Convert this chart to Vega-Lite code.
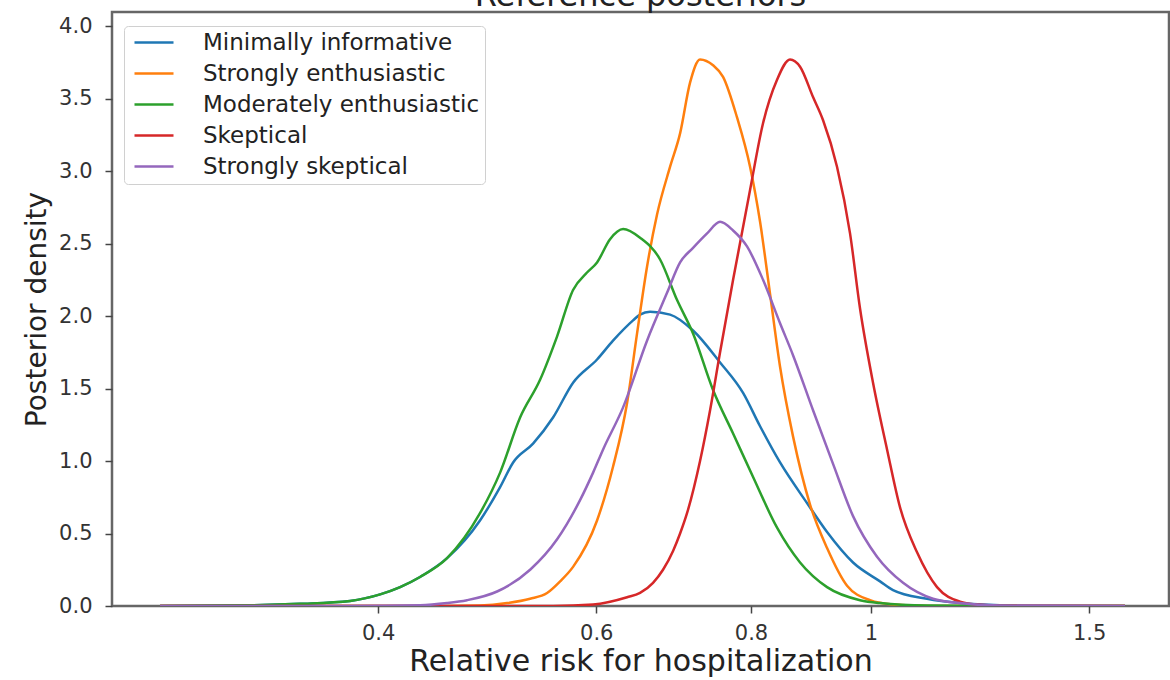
{
  "$schema": "https://vega.github.io/schema/vega-lite/v6.json",
  "width": 1057,
  "height": 594,
  "autosize": {"type": "none"},
  "padding": {"left": 112, "top": 12, "right": 1, "bottom": 74},
  "background": "white",
  "title": {"text": "Reference posteriors", "fontSize": 32, "font": "DejaVu Sans", "fontWeight": "normal", "color": "#222222", "anchor": "middle", "offset": -1},
  "config": {"view": {"stroke": "#666666", "strokeWidth": 2.5}, "font": "DejaVu Sans"},
  "data": {"values": [
    {"s":"Minimally informative","x":0.2667,"y":0},{"s":"Minimally informative","x":0.3153,"y":0.005},{"s":"Minimally informative","x":0.346,"y":0.015},{"s":"Minimally informative","x":0.3797,"y":0.035},{"s":"Minimally informative","x":0.4015,"y":0.08},{"s":"Minimally informative","x":0.4167,"y":0.13},{"s":"Minimally informative","x":0.4324,"y":0.2},{"s":"Minimally informative","x":0.4547,"y":0.33},{"s":"Minimally informative","x":0.4834,"y":0.59},{"s":"Minimally informative","x":0.5018,"y":0.82},{"s":"Minimally informative","x":0.5141,"y":0.99},{"s":"Minimally informative","x":0.5335,"y":1.12},{"s":"Minimally informative","x":0.5537,"y":1.3},{"s":"Minimally informative","x":0.5747,"y":1.54},{"s":"Minimally informative","x":0.6009,"y":1.7},{"s":"Minimally informative","x":0.619,"y":1.83},{"s":"Minimally informative","x":0.6425,"y":1.97},{"s":"Minimally informative","x":0.6509,"y":2.01},{"s":"Minimally informative","x":0.6631,"y":2.03},{"s":"Minimally informative","x":0.6883,"y":2.01},{"s":"Minimally informative","x":0.7183,"y":1.9},{"s":"Minimally informative","x":0.7553,"y":1.68},{"s":"Minimally informative","x":0.7883,"y":1.47},{"s":"Minimally informative","x":0.8136,"y":1.24},{"s":"Minimally informative","x":0.8444,"y":0.99},{"s":"Minimally informative","x":0.8878,"y":0.71},{"s":"Minimally informative","x":0.9215,"y":0.51},{"s":"Minimally informative","x":0.9671,"y":0.3},{"s":"Minimally informative","x":1.0169,"y":0.17},{"s":"Minimally informative","x":1.0417,"y":0.11},{"s":"Minimally informative","x":1.1097,"y":0.05},{"s":"Minimally informative","x":1.1799,"y":0.02},{"s":"Minimally informative","x":1.271,"y":0.005},{"s":"Minimally informative","x":1.3948,"y":0},{"s":"Minimally informative","x":1.6034,"y":0},
    {"s":"Strongly enthusiastic","x":0.2667,"y":0},{"s":"Strongly enthusiastic","x":0.4547,"y":0},{"s":"Strongly enthusiastic","x":0.4834,"y":0.003},{"s":"Strongly enthusiastic","x":0.5084,"y":0.02},{"s":"Strongly enthusiastic","x":0.5306,"y":0.05},{"s":"Strongly enthusiastic","x":0.5476,"y":0.09},{"s":"Strongly enthusiastic","x":0.561,"y":0.17},{"s":"Strongly enthusiastic","x":0.5747,"y":0.27},{"s":"Strongly enthusiastic","x":0.6009,"y":0.59},{"s":"Strongly enthusiastic","x":0.619,"y":0.96},{"s":"Strongly enthusiastic","x":0.6354,"y":1.4},{"s":"Strongly enthusiastic","x":0.6473,"y":1.88},{"s":"Strongly enthusiastic","x":0.6594,"y":2.34},{"s":"Strongly enthusiastic","x":0.6718,"y":2.7},{"s":"Strongly enthusiastic","x":0.6883,"y":3.03},{"s":"Strongly enthusiastic","x":0.7012,"y":3.26},{"s":"Strongly enthusiastic","x":0.7143,"y":3.61},{"s":"Strongly enthusiastic","x":0.7277,"y":3.77},{"s":"Strongly enthusiastic","x":0.7455,"y":3.73},{"s":"Strongly enthusiastic","x":0.7595,"y":3.65},{"s":"Strongly enthusiastic","x":0.7795,"y":3.37},{"s":"Strongly enthusiastic","x":0.7986,"y":3.03},{"s":"Strongly enthusiastic","x":0.8136,"y":2.65},{"s":"Strongly enthusiastic","x":0.8289,"y":2.15},{"s":"Strongly enthusiastic","x":0.8444,"y":1.65},{"s":"Strongly enthusiastic","x":0.865,"y":1.17},{"s":"Strongly enthusiastic","x":0.8928,"y":0.7},{"s":"Strongly enthusiastic","x":0.9215,"y":0.4},{"s":"Strongly enthusiastic","x":0.9564,"y":0.14},{"s":"Strongly enthusiastic","x":0.9981,"y":0.04},{"s":"Strongly enthusiastic","x":1.0417,"y":0.01},{"s":"Strongly enthusiastic","x":1.1097,"y":0},{"s":"Strongly enthusiastic","x":1.6034,"y":0},
    {"s":"Moderately enthusiastic","x":0.2667,"y":0},{"s":"Moderately enthusiastic","x":0.3153,"y":0.005},{"s":"Moderately enthusiastic","x":0.346,"y":0.015},{"s":"Moderately enthusiastic","x":0.3797,"y":0.035},{"s":"Moderately enthusiastic","x":0.4015,"y":0.08},{"s":"Moderately enthusiastic","x":0.4167,"y":0.13},{"s":"Moderately enthusiastic","x":0.4324,"y":0.2},{"s":"Moderately enthusiastic","x":0.4547,"y":0.33},{"s":"Moderately enthusiastic","x":0.4834,"y":0.64},{"s":"Moderately enthusiastic","x":0.5018,"y":0.92},{"s":"Moderately enthusiastic","x":0.5208,"y":1.3},{"s":"Moderately enthusiastic","x":0.5405,"y":1.56},{"s":"Moderately enthusiastic","x":0.5579,"y":1.86},{"s":"Moderately enthusiastic","x":0.5747,"y":2.18},{"s":"Moderately enthusiastic","x":0.5898,"y":2.3},{"s":"Moderately enthusiastic","x":0.6009,"y":2.37},{"s":"Moderately enthusiastic","x":0.6156,"y":2.53},{"s":"Moderately enthusiastic","x":0.6307,"y":2.6},{"s":"Moderately enthusiastic","x":0.6509,"y":2.54},{"s":"Moderately enthusiastic","x":0.6756,"y":2.39},{"s":"Moderately enthusiastic","x":0.6973,"y":2.11},{"s":"Moderately enthusiastic","x":0.7183,"y":1.88},{"s":"Moderately enthusiastic","x":0.7455,"y":1.49},{"s":"Moderately enthusiastic","x":0.7738,"y":1.19},{"s":"Moderately enthusiastic","x":0.8031,"y":0.89},{"s":"Moderately enthusiastic","x":0.8397,"y":0.54},{"s":"Moderately enthusiastic","x":0.8764,"y":0.3},{"s":"Moderately enthusiastic","x":0.9215,"y":0.13},{"s":"Moderately enthusiastic","x":0.9798,"y":0.04},{"s":"Moderately enthusiastic","x":1.0169,"y":0.02},{"s":"Moderately enthusiastic","x":1.1097,"y":0.003},{"s":"Moderately enthusiastic","x":1.271,"y":0},{"s":"Moderately enthusiastic","x":1.6034,"y":0},
    {"s":"Skeptical","x":0.2667,"y":0},{"s":"Skeptical","x":0.5537,"y":0},{"s":"Skeptical","x":0.5965,"y":0.01},{"s":"Skeptical","x":0.6354,"y":0.06},{"s":"Skeptical","x":0.6509,"y":0.09},{"s":"Skeptical","x":0.6668,"y":0.16},{"s":"Skeptical","x":0.6793,"y":0.25},{"s":"Skeptical","x":0.6921,"y":0.38},{"s":"Skeptical","x":0.7012,"y":0.5},{"s":"Skeptical","x":0.7103,"y":0.64},{"s":"Skeptical","x":0.7277,"y":1.0},{"s":"Skeptical","x":0.7414,"y":1.35},{"s":"Skeptical","x":0.7553,"y":1.75},{"s":"Skeptical","x":0.7738,"y":2.25},{"s":"Skeptical","x":0.7986,"y":2.87},{"s":"Skeptical","x":0.8181,"y":3.33},{"s":"Skeptical","x":0.8397,"y":3.63},{"s":"Skeptical","x":0.8602,"y":3.77},{"s":"Skeptical","x":0.8764,"y":3.72},{"s":"Skeptical","x":0.8978,"y":3.51},{"s":"Skeptical","x":0.9147,"y":3.35},{"s":"Skeptical","x":0.9387,"y":3.03},{"s":"Skeptical","x":0.9617,"y":2.57},{"s":"Skeptical","x":0.9798,"y":2.05},{"s":"Skeptical","x":1.0037,"y":1.54},{"s":"Skeptical","x":1.0302,"y":1.08},{"s":"Skeptical","x":1.0554,"y":0.68},{"s":"Skeptical","x":1.0893,"y":0.37},{"s":"Skeptical","x":1.1305,"y":0.13},{"s":"Skeptical","x":1.1799,"y":0.03},{"s":"Skeptical","x":1.2177,"y":0.01},{"s":"Skeptical","x":1.271,"y":0.002},{"s":"Skeptical","x":1.6034,"y":0},
    {"s":"Strongly skeptical","x":0.2667,"y":0},{"s":"Strongly skeptical","x":0.3797,"y":0},{"s":"Strongly skeptical","x":0.4324,"y":0.005},{"s":"Strongly skeptical","x":0.4547,"y":0.02},{"s":"Strongly skeptical","x":0.4719,"y":0.04},{"s":"Strongly skeptical","x":0.499,"y":0.1},{"s":"Strongly skeptical","x":0.5306,"y":0.25},{"s":"Strongly skeptical","x":0.5579,"y":0.46},{"s":"Strongly skeptical","x":0.5822,"y":0.73},{"s":"Strongly skeptical","x":0.5965,"y":0.92},{"s":"Strongly skeptical","x":0.6077,"y":1.08},{"s":"Strongly skeptical","x":0.6307,"y":1.37},{"s":"Strongly skeptical","x":0.6594,"y":1.83},{"s":"Strongly skeptical","x":0.6844,"y":2.16},{"s":"Strongly skeptical","x":0.7012,"y":2.37},{"s":"Strongly skeptical","x":0.7183,"y":2.47},{"s":"Strongly skeptical","x":0.7373,"y":2.57},{"s":"Strongly skeptical","x":0.7553,"y":2.65},{"s":"Strongly skeptical","x":0.7738,"y":2.59},{"s":"Strongly skeptical","x":0.7941,"y":2.48},{"s":"Strongly skeptical","x":0.8181,"y":2.25},{"s":"Strongly skeptical","x":0.8444,"y":1.95},{"s":"Strongly skeptical","x":0.865,"y":1.73},{"s":"Strongly skeptical","x":0.8978,"y":1.35},{"s":"Strongly skeptical","x":0.9318,"y":0.98},{"s":"Strongly skeptical","x":0.9671,"y":0.62},{"s":"Strongly skeptical","x":1.0112,"y":0.34},{"s":"Strongly skeptical","x":1.0613,"y":0.16},{"s":"Strongly skeptical","x":1.1221,"y":0.05},{"s":"Strongly skeptical","x":1.1799,"y":0.02},{"s":"Strongly skeptical","x":1.271,"y":0.003},{"s":"Strongly skeptical","x":1.6034,"y":0}
  ]},
  "mark": {"type": "line", "strokeWidth": 2.5, "interpolate": "monotone", "clip": true},
  "encoding": {
    "x": {"field": "x", "type": "quantitative", "scale": {"type": "log", "domain": [0.2439, 1.74], "nice": false},
      "axis": {"title": "Relative risk for hospitalization", "values": [0.4, 0.6, 0.8, 1, 1.5], "format": "~g", "grid": false, "domain": false, "tickSize": 7, "tickWidth": 1.5, "tickColor": "#444444", "labelFontSize": 21, "labelColor": "#333333", "labelPadding": 9, "labelFont": "DejaVu Sans", "titleFont": "DejaVu Sans", "titleFontSize": 30, "titleFontWeight": "normal", "titleColor": "#222222", "titlePadding": 3}},
    "y": {"field": "y", "type": "quantitative", "scale": {"domain": [0, 4.097], "nice": false},
      "axis": {"title": "Posterior density", "values": [0, 0.5, 1, 1.5, 2, 2.5, 3, 3.5, 4], "format": ".1f", "grid": false, "domain": false, "tickSize": 7, "tickWidth": 1.5, "tickColor": "#444444", "labelFontSize": 21, "labelColor": "#333333", "labelPadding": 13, "labelFont": "DejaVu Sans", "titleFont": "DejaVu Sans", "titleFontSize": 28, "titleFontWeight": "normal", "titleColor": "#222222", "titlePadding": 7}},
    "color": {"field": "s", "type": "nominal",
      "scale": {"domain": ["Minimally informative", "Strongly enthusiastic", "Moderately enthusiastic", "Skeptical", "Strongly skeptical"], "range": ["#1f77b4", "#ff7f0e", "#2ca02c", "#d62728", "#9467bd"]},
      "legend": {"title": null, "orient": "none", "legendX": 12, "legendY": 14, "symbolType": "M-0.6,0H3.3", "symbolSize": 400, "symbolStrokeWidth": 2.5, "labelFontSize": 23, "labelFont": "DejaVu Sans", "labelColor": "#222222", "labelOffset": 51, "rowPadding": 7, "padding": 5, "strokeColor": "#d0d0d0", "fillColor": "white", "cornerRadius": 4, "labelLimit": 400}}
  }
}
